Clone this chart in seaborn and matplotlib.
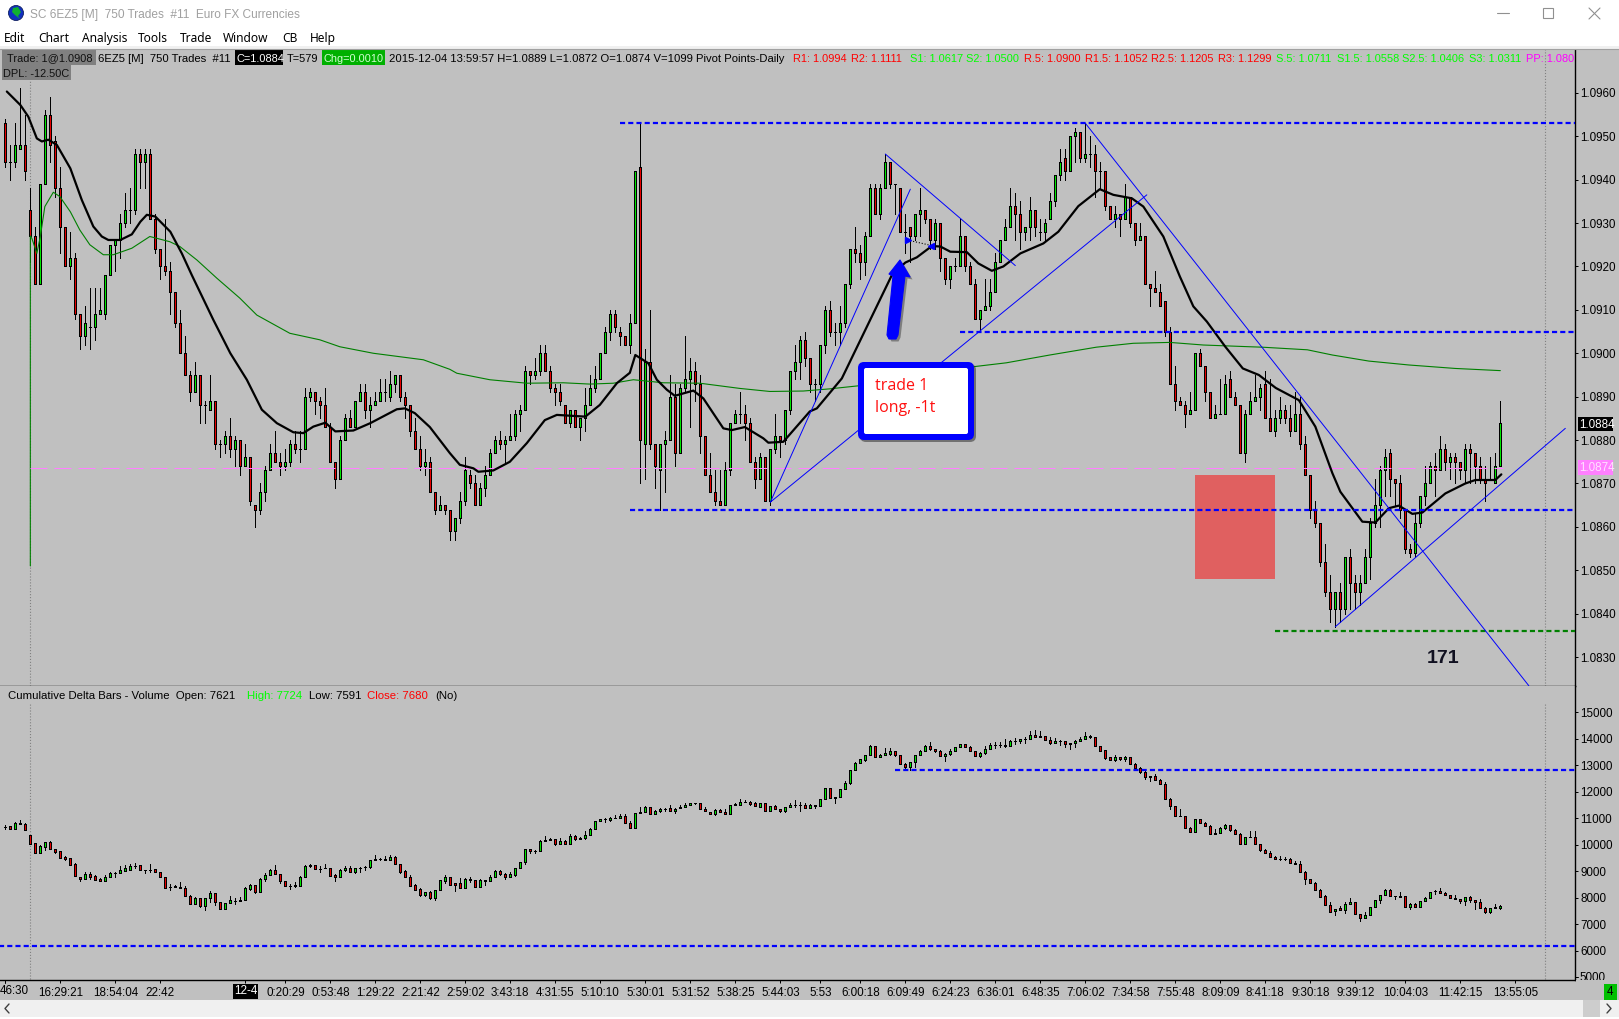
import matplotlib
matplotlib.use("Agg")
import matplotlib.pyplot as plt
import numpy as np
import pandas as pd
import seaborn as sns
from matplotlib.patches import Circle, FancyBboxPatch, Polygon, Rectangle

# -------------------- Data --------------------

# price bars, in points above 1.0900 (one point = 0.0001)
open_pts = [
    53, 44, 44, 47, 48, 33, 27, 16, 39, 55,
    49, 38, 29, 20, 22, 9, 4, 6, 6, 9,
    9, 18, 25, 26, 30, 33, 33, 46, 44, 46,
    31, 24, 20, 19, 14, 7, 0, -5, -9, -5,
    -12, -13, -11, -21, -21, -19, -22, -20, -26, -24,
    -35, -36, -32, -27, -23, -25, -26, -25, -21, -22,
    -22, -10, -9, -11, -12, -17, -25, -29, -20, -15,
    -17, -11, -9, -13, -12, -11, -9, -10, -7, -5,
    -10, -12, -18, -22, -26, -25, -32, -36, -35, -36,
    -41, -38, -34, -28, -30, -35, -31, -28, -23, -20,
    -21, -20, -19, -14, -13, -4, -5, -4, 0, -4,
    -8, -9, -12, -16, -13, -17, -15, -12, -8, -6,
    0, 5, 9, 5, 4, 2, 7, 43, -21, -2,
    -21, -27, -21, -20, -10, -23, -8, -6, -4, -7,
    -19, -28, -32, -34, -35, -27, -16, -14, -14, -16,
    -25, -29, -24, -34, -22, -19, -20, -13, -4, -2,
    3, -1, -7, -7, 2, 10, 5, 5, 7, 16,
    24, 23, 21, 27, 38, 32, 38, 44, 39, 38,
    28, 29, 27, 32, 33, 31, 26, 30, 22, 17,
    20, 20, 27, 20, 16, 8, 10, 11, 14, 21,
    26, 29, 34, 32, 28, 29, 33, 28, 28, 31,
    35, 41, 45, 42, 50, 51, 45, 46, 46, 42,
    42, 34, 31, 32, 31, 36, 30, 26, 27, 16,
    15, 14, 12, 5, -7, -11, -12, -14, -13, 0,
    -3, -9, -15, -14, -14, -6, -10, -12, -23, -14,
    -11, -10, -7, -15, -18, -15, -13, -15, -18, -14,
    -21, -28, -36, -39, -48, -55, -59, -55, -59, -47,
    -53, -55, -53, -47, -39, -35, -27, -23, -29, -30,
    -36, -45, -46, -39, -33, -30, -26, -27, -22, -25,
    -24, -25, -27, -22, -23, -26, -29, -29, -30, -26,
]
close_pts = [
    44, 44, 48, 48, 42, 27, 16, 39, 55, 48,
    38, 29, 20, 22, 9, 4, 7, 6, 9, 10,
    18, 25, 26, 30, 33, 33, 46, 44, 46, 31,
    24, 20, 19, 14, 7, 0, -5, -9, -5, -12,
    -12, -11, -21, -21, -19, -22, -20, -26, -24, -34,
    -36, -32, -27, -23, -25, -26, -25, -21, -22, -22,
    -10, -9, -11, -12, -17, -25, -29, -20, -15, -17,
    -11, -9, -13, -12, -11, -9, -9, -7, -5, -10,
    -12, -18, -22, -26, -25, -32, -36, -35, -36, -41,
    -38, -34, -27, -30, -35, -31, -28, -23, -20, -21,
    -20, -19, -14, -13, -4, -5, -4, 0, -4, -8,
    -9, -11, -16, -13, -17, -15, -12, -8, -6, 0,
    5, 9, 6, 4, 2, 7, 42, -20, -2, -21,
    -26, -21, -20, -10, -23, -8, -6, -4, -7, -19,
    -28, -32, -34, -35, -27, -16, -14, -14, -16, -25,
    -29, -24, -34, -22, -19, -20, -13, -4, -2, 3,
    -1, -7, -7, 2, 10, 5, 5, 7, 16, 24,
    23, 21, 27, 38, 32, 38, 44, 39, 39, 28,
    28, 27, 32, 33, 31, 26, 30, 22, 17, 20,
    20, 27, 20, 16, 8, 10, 11, 14, 21, 26,
    29, 34, 32, 28, 29, 33, 29, 28, 30, 35,
    41, 44, 42, 50, 51, 45, 46, 46, 42, 42,
    34, 31, 32, 31, 36, 30, 26, 27, 16, 15,
    14, 11, 5, -7, -11, -12, -14, -13, 0, -3,
    -9, -15, -14, -14, -7, -10, -12, -23, -14, -11,
    -10, -8, -15, -18, -15, -13, -15, -18, -14, -21,
    -28, -36, -39, -48, -55, -59, -55, -59, -47, -53,
    -55, -53, -47, -39, -35, -27, -24, -29, -30, -36,
    -45, -46, -39, -33, -30, -26, -27, -22, -25, -24,
    -25, -27, -22, -23, -26, -29, -30, -29, -26, -16,
]
high_pts = [
    54, 48, 53, 61, 55, 38, 29, 39, 56, 59,
    50, 43, 29, 28, 23, 9, 11, 15, 15, 15,
    18, 25, 26, 32, 37, 38, 47, 47, 47, 47,
    32, 24, 31, 21, 14, 10, 4, -4, -2, -5,
    -11, -5, -11, -20, -18, -15, -19, -20, -21, -24,
    -35, -30, -26, -21, -18, -23, -22, -20, -18, -18,
    -8, -8, -9, -10, -8, -16, -25, -19, -14, -13,
    -11, -7, -7, -10, -9, -6, -6, -4, -5, -5,
    -9, -12, -15, -19, -22, -24, -32, -33, -35, -36,
    -38, -32, -24, -27, -28, -30, -26, -22, -19, -18,
    -19, -14, -13, -12, -3, -4, -1, 2, 2, -3,
    -7, -7, -12, -13, -13, -15, -8, -5, -3, 0,
    6, 10, 10, 6, 4, 9, 42, 53, 1, 10,
    -21, -21, -18, -5, -7, -7, 4, -1, -2, -5,
    -19, -23, -27, -27, -25, -16, -13, -9, -12, -15,
    -24, -23, -24, -22, -14, -19, -13, -4, 2, 4,
    5, -1, -6, 2, 11, 12, 7, 11, 16, 24,
    29, 25, 28, 39, 39, 39, 46, 44, 39, 38,
    32, 29, 32, 38, 33, 31, 31, 30, 22, 20,
    22, 31, 27, 21, 17, 10, 17, 17, 23, 26,
    31, 38, 37, 35, 29, 36, 33, 31, 31, 37,
    41, 47, 47, 50, 52, 51, 53, 50, 48, 44,
    42, 34, 34, 32, 39, 36, 30, 30, 27, 16,
    19, 16, 12, 6, -3, -10, -11, -9, 0, 1,
    -3, -9, -12, -6, -5, -4, -9, -12, -13, -9,
    -5, -7, -4, -6, -13, -10, -12, -12, -9, -10,
    -19, -28, -34, -39, -44, -51, -55, -53, -47, -45,
    -51, -51, -45, -38, -29, -26, -22, -22, -29, -28,
    -36, -44, -37, -33, -26, -25, -23, -19, -21, -23,
    -23, -25, -21, -21, -23, -24, -26, -24, -23, -11,
]
low_pts = [
    43, 40, 43, 47, 40, 21, 16, 16, 39, 44,
    36, 23, 20, 17, 8, 1, 2, 1, 3, 9,
    8, 18, 19, 22, 29, 30, 32, 38, 38, 31,
    23, 17, 18, 9, 6, 0, -5, -11, -9, -16,
    -16, -13, -22, -24, -23, -24, -26, -28, -26, -35,
    -40, -37, -34, -27, -25, -28, -27, -26, -23, -25,
    -22, -11, -14, -15, -17, -25, -31, -29, -20, -17,
    -17, -11, -15, -17, -12, -11, -11, -11, -9, -11,
    -15, -19, -22, -27, -28, -32, -37, -36, -37, -43,
    -43, -39, -35, -31, -35, -35, -33, -28, -23, -22,
    -25, -20, -20, -18, -13, -7, -6, -5, -4, -9,
    -12, -12, -16, -17, -17, -20, -18, -12, -9, -6,
    0, 3, 5, 2, 2, 0, 7, -30, -29, -22,
    -31, -36, -32, -20, -26, -23, -9, -17, -11, -23,
    -28, -32, -35, -35, -35, -28, -16, -16, -20, -25,
    -31, -29, -34, -35, -23, -24, -21, -14, -6, -6,
    -3, -9, -11, -9, 0, 4, 2, 2, 6, 15,
    21, 17, 18, 27, 32, 31, 38, 38, 32, 28,
    23, 21, 26, 27, 30, 24, 24, 19, 16, 15,
    19, 20, 19, 16, 8, 5, 10, 10, 14, 21,
    26, 29, 26, 24, 26, 26, 27, 26, 26, 31,
    34, 40, 40, 42, 44, 44, 44, 43, 36, 38,
    33, 31, 29, 27, 31, 29, 25, 26, 16, 11,
    14, 11, 4, -7, -13, -12, -17, -14, -13, -3,
    -11, -15, -15, -14, -14, -10, -12, -23, -25, -14,
    -11, -13, -15, -18, -19, -16, -16, -19, -18, -22,
    -28, -38, -40, -49, -56, -62, -63, -62, -60, -59,
    -59, -58, -53, -52, -40, -40, -33, -33, -35, -38,
    -46, -47, -47, -40, -35, -30, -33, -27, -27, -29,
    -30, -29, -30, -30, -30, -30, -34, -29, -30, -26,
]

# cumulative delta bars
delta_open = [
    10680, 10700, 10610, 10770, 10770, 10360, 10050, 9700, 9930, 10090,
    9850, 9750, 9540, 9490, 9260, 8800, 8720, 8880, 8810, 8710,
    8645, 8770, 8920, 8920, 9020, 9060, 9210, 9225, 9035, 9060,
    9070, 8960, 8770, 8420, 8430, 8395, 8355, 8055, 7775, 7980,
    7700, 7980, 8165, 7825, 7590, 7790, 7890, 7905, 7905, 8345,
    8470, 8230, 8695, 8845, 9035, 8885, 8620, 8445, 8490, 8455,
    8770, 9185, 9225, 9100, 9110, 9110, 8845, 8770, 9035, 9110,
    8960, 9130, 9150, 9150, 9450, 9450, 9450, 9410, 9525, 9260,
    9000, 8770, 8470, 8320, 8115, 8205, 8000, 8305, 8645, 8770,
    8545, 8545, 8380, 8720, 8655, 8420, 8655, 8620, 8770, 9000,
    8885, 8795, 8870, 9110, 9335, 9825, 9750, 9750, 10165, 10165,
    10205, 10040, 10130, 10040, 10320, 10205, 10245, 10355, 10580, 10885,
    10970, 10945, 11000, 11000, 11085, 10810, 10620, 11185, 11225, 11410,
    11150, 11260, 11360, 11375, 11260, 11375, 11410, 11515, 11590, 11590,
    11360, 11250, 11150, 11300, 11225, 11150, 11490, 11515, 11600, 11600,
    11565, 11440, 11565, 11260, 11450, 11340, 11260, 11415, 11490, 11490,
    11490, 11375, 11490, 11450, 11715, 12130, 11790, 11790, 12090, 12320,
    12810, 13075, 13200, 13375, 13715, 13300, 13375, 13425, 13525, 13375,
    13035, 12950, 13110, 13375, 13525, 13715, 13600, 13525, 13340, 13425,
    13525, 13675, 13790, 13675, 13525, 13340, 13450, 13600, 13750, 13750,
    13750, 13715, 13905, 13905, 13980, 13980, 14130, 14095, 14095, 13940,
    13830, 13905, 13905, 13830, 13830, 13905, 13980, 14095, 14055, 13715,
    13565, 13300, 13185, 13300, 13225, 13300, 13035, 12885, 12734, 12583,
    12583, 12432, 12281, 11715, 11451, 11074, 11074, 10621, 10495, 10960,
    10809, 10696, 10432, 10432, 10621, 10734, 10545, 10394, 10017, 10281,
    10281, 10017, 9790, 9677, 9526, 9476, 9476, 9451, 9300, 9262,
    8960, 8696, 8545, 8281, 8055, 7715, 7488, 7601, 7526, 7752,
    7828, 7375, 7224, 7337, 7639, 7904, 8092, 8281, 8055, 8055,
    8055, 7639, 7752, 7639, 7866, 7979, 8243, 8256, 8168, 8092,
    7979, 7941, 7866, 8017, 7904, 7828, 7601, 7451, 7639, 7621,
]
delta_close = [
    10680, 10610, 10810, 10810, 10570, 10040, 9700, 9940, 10090, 9850,
    9740, 9510, 9475, 9250, 8830, 8720, 8880, 8800, 8680, 8645,
    8770, 8920, 8920, 9035, 9110, 9185, 9210, 9035, 9035, 9060,
    8960, 8770, 8380, 8420, 8395, 8355, 8055, 7775, 7980, 7700,
    7980, 8165, 7825, 7590, 7790, 7905, 7890, 7865, 8355, 8470,
    8230, 8695, 8845, 9035, 8885, 8620, 8430, 8445, 8430, 8770,
    9185, 9225, 9075, 9100, 9110, 8835, 8770, 9035, 9110, 8960,
    9110, 9110, 9150, 9410, 9410, 9450, 9410, 9525, 9260, 8985,
    8770, 8455, 8305, 8115, 8205, 8000, 8305, 8655, 8770, 8495,
    8495, 8380, 8695, 8655, 8420, 8655, 8620, 8770, 9000, 8885,
    8770, 8885, 9110, 9335, 9825, 9750, 9750, 10130, 10130, 10205,
    10040, 10130, 10040, 10320, 10205, 10245, 10355, 10580, 10885, 10960,
    10970, 11000, 11000, 11085, 10810, 10620, 11185, 11225, 11410, 11150,
    11260, 11360, 11360, 11260, 11360, 11410, 11515, 11590, 11590, 11360,
    11260, 11150, 11300, 11225, 11150, 11490, 11540, 11600, 11600, 11550,
    11450, 11565, 11260, 11450, 11340, 11260, 11415, 11490, 11490, 11490,
    11375, 11490, 11450, 11715, 12130, 11750, 11750, 12090, 12320, 12810,
    13075, 13225, 13375, 13715, 13300, 13375, 13450, 13525, 13375, 13035,
    12950, 13110, 13375, 13525, 13715, 13600, 13525, 13340, 13425, 13525,
    13675, 13790, 13675, 13525, 13340, 13450, 13600, 13750, 13750, 13750,
    13715, 13905, 13905, 13980, 13980, 14130, 14055, 14055, 13940, 13830,
    13905, 13905, 13790, 13790, 13905, 13980, 14095, 14055, 13715, 13550,
    13275, 13185, 13300, 13225, 13300, 13035, 12885, 12734, 12545, 12545,
    12432, 12281, 11715, 11451, 11074, 11074, 10621, 10495, 10960, 10809,
    10696, 10394, 10394, 10621, 10734, 10545, 10394, 10017, 10281, 10281,
    10017, 9790, 9677, 9526, 9451, 9476, 9476, 9300, 9262, 8960,
    8696, 8545, 8281, 8042, 7715, 7476, 7589, 7526, 7752, 7828,
    7375, 7224, 7337, 7639, 7904, 8092, 8281, 8055, 8055, 8020,
    7639, 7752, 7639, 7866, 7979, 8205, 8243, 8168, 8092, 7979,
    7941, 7866, 8017, 7904, 7828, 7601, 7451, 7601, 7601, 7680,
]
delta_high = [
    10760, 10700, 10850, 10920, 10810, 10360, 10050, 9980, 10090, 10130,
    9850, 9750, 9575, 9490, 9300, 8800, 8960, 8960, 8845, 8745,
    8845, 8960, 8960, 9185, 9225, 9260, 9300, 9225, 9035, 9260,
    9070, 8960, 8770, 8505, 8470, 8580, 8430, 8090, 8015, 7980,
    7980, 8245, 8165, 7825, 7790, 8055, 7980, 8015, 8395, 8505,
    8470, 8735, 8920, 9075, 9225, 8885, 8620, 8505, 8580, 8810,
    9225, 9260, 9225, 9185, 9260, 9110, 8885, 9075, 9185, 9185,
    9110, 9150, 9185, 9410, 9600, 9490, 9560, 9600, 9560, 9260,
    9035, 8845, 8505, 8355, 8205, 8240, 8305, 8655, 8845, 8770,
    8545, 8735, 8735, 8770, 8655, 8695, 8655, 8845, 9035, 9035,
    8920, 8960, 9110, 9335, 9825, 9825, 9790, 10165, 10320, 10245,
    10205, 10245, 10165, 10395, 10355, 10280, 10505, 10620, 10885, 10960,
    11010, 11035, 11125, 11150, 11150, 10885, 11185, 11410, 11450, 11410,
    11300, 11375, 11375, 11490, 11375, 11490, 11590, 11590, 11590, 11590,
    11440, 11250, 11335, 11335, 11335, 11515, 11565, 11715, 11675, 11665,
    11615, 11565, 11565, 11450, 11490, 11340, 11415, 11565, 11675, 11600,
    11565, 11525, 11490, 11715, 12130, 12130, 11790, 12090, 12395, 12810,
    13110, 13225, 13375, 13750, 13715, 13415, 13640, 13640, 13525, 13375,
    13075, 13110, 13375, 13565, 13750, 13865, 13600, 13565, 13450, 13600,
    13675, 13790, 13790, 13715, 13525, 13490, 13715, 13830, 13865, 13865,
    13980, 13940, 14015, 13980, 14055, 14280, 14320, 14280, 14095, 14055,
    14015, 13940, 13905, 13830, 13940, 14055, 14245, 14130, 14055, 13715,
    13565, 13300, 13375, 13300, 13340, 13300, 13075, 12923, 12772, 12583,
    12659, 12470, 12357, 11753, 11451, 11338, 11074, 10658, 10960, 10960,
    10847, 10734, 10583, 10658, 10772, 10734, 10583, 10432, 10281, 10507,
    10507, 10017, 9828, 9753, 9564, 9564, 9526, 9489, 9375, 9375,
    8998, 8696, 8583, 8319, 8092, 7828, 7589, 7677, 7828, 7979,
    7828, 7375, 7451, 7639, 7904, 8092, 8319, 8319, 8055, 8205,
    8055, 7790, 7790, 7866, 8017, 8205, 8281, 8356, 8205, 8092,
    8092, 7941, 8017, 8055, 7904, 7941, 7639, 7601, 7752, 7724,
]
delta_low = [
    10595, 10610, 10610, 10770, 10570, 10040, 9700, 9700, 9815, 9850,
    9700, 9510, 9440, 9250, 8830, 8645, 8720, 8720, 8680, 8645,
    8645, 8770, 8770, 8920, 9020, 9035, 9110, 9035, 8920, 8985,
    8960, 8770, 8380, 8305, 8395, 8355, 8055, 7775, 7775, 7665,
    7550, 7855, 7740, 7590, 7590, 7790, 7775, 7865, 7905, 8305,
    8190, 8230, 8645, 8845, 8885, 8545, 8430, 8345, 8395, 8455,
    8770, 9150, 9075, 8985, 9110, 8835, 8645, 8770, 9000, 8960,
    8920, 8960, 9035, 9110, 9410, 9410, 9410, 9410, 9260, 8920,
    8770, 8455, 8305, 8080, 8080, 7965, 7930, 8305, 8570, 8495,
    8270, 8380, 8380, 8580, 8420, 8420, 8495, 8620, 8770, 8845,
    8710, 8795, 8835, 9110, 9285, 9690, 9675, 9750, 10130, 10165,
    10000, 10040, 10040, 10040, 10165, 10205, 10205, 10355, 10580, 10885,
    10845, 10910, 11000, 11000, 10810, 10620, 10620, 11185, 11225, 11150,
    11150, 11225, 11285, 11260, 11185, 11375, 11410, 11490, 11550, 11360,
    11260, 11150, 11110, 11225, 11150, 11150, 11490, 11515, 11600, 11490,
    11450, 11440, 11260, 11260, 11340, 11225, 11225, 11415, 11440, 11285,
    11375, 11375, 11375, 11450, 11715, 11750, 11590, 11790, 12090, 12280,
    12810, 13075, 13160, 13375, 13300, 13300, 13375, 13390, 13340, 13035,
    12820, 12820, 12950, 13375, 13525, 13565, 13490, 13340, 13175, 13390,
    13525, 13675, 13675, 13525, 13340, 13300, 13415, 13600, 13640, 13675,
    13675, 13715, 13790, 13830, 13830, 13980, 14055, 14055, 13940, 13790,
    13830, 13750, 13675, 13600, 13675, 13905, 13980, 14015, 13715, 13525,
    13225, 13185, 13150, 13185, 13150, 13035, 12850, 12696, 12470, 12394,
    12432, 12281, 11715, 11338, 11074, 11074, 10621, 10495, 10495, 10809,
    10696, 10394, 10394, 10432, 10583, 10507, 10394, 10017, 10017, 10281,
    10017, 9753, 9677, 9526, 9451, 9413, 9413, 9300, 9262, 8960,
    8507, 8545, 8281, 8042, 7715, 7476, 7363, 7526, 7413, 7752,
    7375, 7136, 7224, 7337, 7639, 7790, 8092, 8055, 7941, 8020,
    7639, 7589, 7639, 7639, 7866, 7979, 8130, 8168, 8092, 7979,
    7941, 7790, 7715, 7828, 7564, 7601, 7413, 7413, 7601, 7591,
]

# moving averages: bar number, points above 1.0900
black_bar = [0.3, 3, 4.6, 6.3, 7.3, 8.6, 10.3, 13, 15.3, 17.6, 19.3, 20.6, 23, 25.3, 27, 28.3, 30, 33, 35.3,
             37.3, 41.6, 45, 48.3, 51.3, 54.3, 57.6, 59.6, 61.6, 64, 66, 69.6, 73, 78.3, 79.9, 81.9, 84.9,
             88.9, 90.9, 93.6, 94.6, 97.6, 100.9, 104.3, 107.9, 110.3, 116, 118.9, 122.3, 124.9, 126, 128.6,
             130.3, 132.3, 133.9, 137.6, 139.6, 143.6, 145.3, 147.9, 151.6, 152.6, 155.6, 160.9, 162.3, 167.3,
             172.3, 177.3, 180, 182.3, 185.3, 187, 189, 192.3, 194.6, 197.3, 199.6, 203, 207.6, 210.6, 214.6,
             218.9, 221.6, 225.3, 227.6, 231.6, 234.9, 237.6, 240.3, 244, 247.5, 250.7, 254.1, 258.7, 262,
             265.4, 267, 271.4, 274, 276.7, 278.7, 281.4, 283.4, 288, 292, 294, 298, 299.2]
black_pts = [60.3, 57.2, 54.5, 49.5, 48.8, 49.2, 48, 42.6, 35.3, 29.2, 26.9, 26.1, 26.1, 27.4, 30.3, 31.9, 31.5, 28, 23,
             18, 7.7, 0, -6.1, -13, -16.1, -18.2, -18.4, -16.9, -16, -18, -17.8, -16.1, -12.9, -12.7, -13.8, -17,
             -23, -25.7, -26.5, -27.3, -27, -25, -20.7, -15.4, -14.2, -14.6, -11.9, -6.9, -4.5, -0.4, -2.3,
             -6.1, -8.4, -9.8, -8.6, -10.4, -17.3, -17.7, -17, -19.6, -20.6, -20.4, -13.4, -12.7, -5.8,
             6.1, 18, 20.9, 22.1, 24.7, 24.6, 23.4, 23.3, 20.7, 19, 20, 23, 25.3, 28, 33.9,
             37.8, 36.5, 35.7, 33.8, 26.9, 17.7, 10.8, 7.3, 1.5, -3.5, -5, -8, -10.8, -16.9,
             -27.6, -31.9, -38.8, -39, -35.7, -35.1, -37, -36.7, -32.3, -30, -29.2, -29.2, -27.9]
green_bar = [5, 5, 5.3, 6.3, 7, 7.9, 9.6, 10.9, 13, 14.9, 16.9, 19.6, 21.6, 25.3, 28.9, 32.9, 34.9, 38.3, 42.3, 46.9,
             50.3, 56.9, 62.9, 66.9, 73.6, 83.6, 88.9, 90.3, 96.9, 104.3, 111.6, 116.9, 121.6, 125.6, 131.6, 138.9,
             146.9, 152.9, 159.6, 164.9, 170.6, 193.6, 200.2, 208.9, 218.2, 225.6, 232.9, 239.6, 248.9, 251.4,
             260.4, 265.4, 272.7, 280.7, 290, 299]
green_pts = [-49, 27, 26.5, 23, 26.9, 33.8, 37.1, 36.1, 32.6, 28.4, 25, 22.7, 22.7, 24.2, 26.9, 25.7, 24.6, 21.5, 17.3, 12.7,
             8.8, 4.6, 3.1, 1.5, 0, -1.5, -3.7, -4.6, -6.1, -6.9, -6.8, -7.1, -6.9, -6.1, -6.8, -6.9,
             -8.1, -8.8, -8.7, -8.2, -7.5, -3.1, -2.2, -0.4, 1.4, 2.3, 2.5, 1.9, 1.5, 1.4,
             0.8, -0.4, -1.8, -2.7, -3.5, -4]

# drawn levels and trend lines: (first bar, last bar, points)
blue_levels = [(123, 53), (191, 5), (125, -36)]
green_level = (254, -64)
pink_level = -26.4
trend_lines = [(153, -34.3, 181, 37.8), (153, -34.3, 228.3, 36.5), (176, 45.9, 202, 20.2),
               (216, 53, 304.7, -76.6), (266, -63, 312, -17.3)]
delta_levels = [(178, 12820), (-2, 6180)]
zone_bars = (238, 254)
zone_pts = (-52, -28)
price_ticks = [1.0830, 1.0840, 1.0850, 1.0860, 1.0870, 1.0880, 1.0890, 1.0900, 1.0910, 1.0920, 1.0930, 1.0940, 1.0950, 1.0960]
delta_ticks = [6000, 7000, 8000, 9000, 10000, 11000, 12000, 13000, 14000, 15000]
time_bars = [11, 22, 31, 48, 56, 65, 74, 83, 92, 101, 110, 119, 128, 137, 146, 155, 163, 171, 180, 189, 198, 207, 216, 225, 234,
             243, 252, 261, 270, 280, 291, 302]
time_labels = ["16:29:21", "18:54:04", "22:42", "", "0:20:29", "0:53:48", "1:29:22", "2:21:42", "2:59:02", "3:43:18",
               "4:31:55", "5:10:10", "5:30:01", "5:31:52", "5:38:25", "5:44:03", "5:53", "6:00:18", "6:09:49", "6:24:23",
               "6:36:01", "6:48:35", "7:06:02", "7:34:58", "7:55:48", "8:09:09", "8:41:18", "9:30:18", "9:39:12", "10:04:03",
               "11:42:15", "13:55:05"]
menu_items = ["Edit", "Chart", "Analysis", "Tools", "Trade", "Window", "CB", "Help"]
pivot_labels = ["R1: 1.0994", "R2: 1.1111", "S1: 1.0617", "S2: 1.0500", "R.5: 1.0900", "R1.5: 1.1052", "R2.5: 1.1205", "R3: 1.1299",
                "S.5: 1.0711", "S1.5: 1.0558", "S2.5: 1.0406", "S3: 1.0311", "PP: 1.080"]

# -------------------- Style --------------------

W, H = 1619, 1019
CHART_GRAY = "#C0C0C0"
BAR_GREEN = "#00E600"
BAR_RED = "#E60000"
BLUE = "#0000FF"
FONT = "Liberation Sans"
INFO_SIZE = 7.9

sns.set_theme(style="white")
plt.rcParams["font.family"] = [FONT, "DejaVu Sans"]


def price(pts):
    return 1.09 + np.asarray(pts, dtype=float) / 10000


def make_axes(fig, left, top, right, bottom, zorder=1):
    return fig.add_axes([left / W, 1 - bottom / H, (right - left) / W, (bottom - top) / H], zorder=zorder)


def draw_bars(ax, o, c, h, l):
    """Bodies and wicks, one slot per bar."""
    frame = pd.DataFrame({"bar": np.arange(len(o)), "o": o, "c": c, "h": h, "l": l})
    ax.vlines(frame["bar"], frame["l"], frame["h"], color="black", lw=0.72, zorder=3, antialiased=False)
    colors = np.where(frame["c"] >= frame["o"], BAR_GREEN, BAR_RED)
    lows = frame[["o", "c"]].min(axis=1)
    ax.bar(frame["bar"], (frame["c"] - frame["o"]).abs(), bottom=lows, width=0.46, color=colors,
           edgecolor="black", linewidth=0.72, zorder=4, antialiased=False)


def style_panel(ax, ylim, ticks, fmt):
    ax.set_facecolor(CHART_GRAY)
    ax.set_xlim(-5.33 / 5, (1575 - 5.33) / 5)
    ax.set_ylim(*ylim)
    ax.yaxis.tick_right()
    ax.set_yticks(ticks)
    ax.set_yticklabels([fmt.format(t) for t in ticks])
    ax.tick_params(axis="y", length=2.2, width=0.72, pad=1.5, labelsize=8.4, colors="black", right=True)
    for side in ["top", "left"]:
        ax.spines[side].set_visible(False)
    for side in ["right", "bottom"]:
        ax.spines[side].set_color("black")
        ax.spines[side].set_linewidth(1.0)
    ax.set_xlabel("")
    ax.set_ylabel("")


def main():
    fig = plt.figure(figsize=(W / 100, H / 100), dpi=100, facecolor="white")

    # background strips behind the chart panels
    fig.patches.append(Rectangle((0, 1 - 1000 / H), 1, 20 / H, transform=fig.transFigure, facecolor=CHART_GRAY, edgecolor="none", zorder=0))
    fig.patches.append(Rectangle((1575 / W, 1 - 1000 / H), 44 / W, 951 / H, transform=fig.transFigure, facecolor=CHART_GRAY, edgecolor="none", zorder=0))

    # -------------------- Price panel --------------------
    ax = make_axes(fig, 0, 49, 1575, 686)
    draw_bars(ax, price(open_pts), price(close_pts), price(high_pts), price(low_pts))
    sns.lineplot(x=green_bar, y=price(green_pts), ax=ax, color="#008000", lw=0.8, sort=False, estimator=None, zorder=5)
    sns.lineplot(x=black_bar, y=price(black_pts), ax=ax, color="black", lw=1.6, sort=False, estimator=None, zorder=6)
    style_panel(ax, (1.09 - 0.007666, 1.09 + 0.00701), price_ticks, "{:.4f}")
    ax.set_xticks([])
    right_bar = ax.get_xlim()[1]

    ax.add_patch(Rectangle((zone_bars[0], price(zone_pts[0])), zone_bars[1] - zone_bars[0],
                           price(zone_pts[1]) - price(zone_pts[0]), color="#E06060", lw=0, zorder=2))
    for start, pts in blue_levels:
        ax.plot([start, right_bar], [price(pts)] * 2, color=BLUE, lw=1.6, ls=(0, (2.3, 1.4)), zorder=7)
    ax.plot([green_level[0], right_bar], [price(green_level[1])] * 2, color="#008000", lw=1.6, ls=(0, (2.3, 1.4)), zorder=7)
    ax.plot([5, 299.5], [price(pink_level)] * 2, color="#FF80FF", lw=0.72, ls=(0, (17, 7)), zorder=5)
    for x0, p0, x1, p1 in trend_lines:
        ax.plot([x0, x1], [price(p0), price(p1)], color=BLUE, lw=0.7, zorder=7)
    ax.plot([180.4, 185.3], [price(26.1), price(24.8)], color="black", lw=0.8, ls=":", zorder=7)
    ax.plot([180.6], [price(26.1)], marker=">", ms=5, color=BLUE, zorder=8)
    ax.plot([185.1], [price(24.8)], marker="<", ms=5, color=BLUE, zorder=8)
    ax.plot([5, 5], [ax.get_ylim()[0], 1.0972 + 0.00025], color="#808080", lw=0.8, ls=":", zorder=1)
    ax.plot([308, 308], [ax.get_ylim()[0], 1.0972 + 0.00025], color="#808080", lw=0.8, ls=":", zorder=1)

    # -------------------- Delta panel --------------------
    ax2 = make_axes(fig, 0, 686, 1575, 980)
    draw_bars(ax2, delta_open, delta_close, delta_high, delta_low)
    style_panel(ax2, (4894, 15993), delta_ticks, "{:d}")
    ax2.set_xticks(time_bars)
    ax2.set_xticklabels(time_labels)
    ax2.tick_params(axis="x", length=2.2, width=0.72, pad=3, labelsize=8.4, colors="black", bottom=True)
    for start, level in delta_levels:
        ax2.plot([start, right_bar], [level, level], color=BLUE, lw=1.6, ls=(0, (2.3, 1.4)), zorder=7)
    ax2.plot([5, 5], [4950, 15350], color="#808080", lw=0.8, ls=":", zorder=1)
    ax2.plot([308, 308], [4950, 15350], color="#808080", lw=0.8, ls=":", zorder=1)
    ax2.set_xlim(ax.get_xlim())

    # -------------------- Window chrome, drawn in pixel coordinates --------------------
    ui = fig.add_axes([0, 0, 1, 1], zorder=10)
    ui.set_xlim(0, W)
    ui.set_ylim(H, 0)
    ui.axis("off")
    ui.patch.set_alpha(0)

    def label(x, y, s, color="black", size=INFO_SIZE, ha="left", **kw):
        return ui.text(x, y, s, color=color, fontsize=size, ha=ha, va="center", zorder=kw.pop("zorder", 3), **kw)

    def box(x0, y0, x1, y1, color, z=1):
        ui.add_patch(Rectangle((x0, y0), x1 - x0, y1 - y0, facecolor=color, edgecolor="none", zorder=z))

    # title bar and menu
    ui.add_patch(Circle((16, 13), 7.5, facecolor="#1030C0", edgecolor="#102060", lw=0.6))
    ui.add_patch(Polygon([(13, 8), (18, 7), (21, 12), (18, 16), (20, 19), (15, 15), (12, 12)], facecolor="#10B030", edgecolor="none"))
    label(30, 15, "SC 6EZ5 [M]  750 Trades  #11  Euro FX Currencies", color="#A0A0A0", size=8.6)
    ui.plot([1497, 1509], [13, 13], color="#909090", lw=0.8)
    ui.add_patch(Rectangle((1543, 8), 10, 10, facecolor="none", edgecolor="#909090", lw=0.8))
    ui.plot([1589, 1600], [8, 19], color="#909090", lw=0.8)
    ui.plot([1589, 1600], [19, 8], color="#909090", lw=0.8)
    for x, item in zip([4, 38, 82, 138, 180, 223, 282, 310], menu_items):
        label(x, 38, item, size=8.6, family="Noto Sans")
    box(0, 46, W, 49, "#F0F0F0")
    ui.plot([0, W], [49, 49], color="#A0A0A0", lw=0.8)

    # info lines
    box(2, 50, 96, 65, "#808080")
    label(7, 58.5, "Trade: 1@1.0908", color="#101010")
    label(98, 58.5, "6EZ5 [M]  750 Trades  #11", size=8.15)
    box(235, 50, 283, 65, "black")
    label(236, 58.5, "C=1.0884", color="white")
    label(287, 58.5, "T=579")
    box(322, 50, 385, 65, "#00B000")
    label(323, 58.5, "Chg=0.0010", color="#D0FFD0")
    label(389, 58.5, "2015-12-04 13:59:57 H=1.0889 L=1.0872 O=1.0874 V=1099 Pivot Points-Daily", size=8.15)
    pivot_x = [793, 851, 910, 966, 1024, 1085, 1151, 1218, 1276, 1337, 1402, 1469, 1526]
    pivot_colors = ["#FF0000"] * 2 + ["#00FF00"] * 2 + ["#FF0000"] * 4 + ["#00FF00"] * 4 + ["#FF00FF"]
    for x, text, color in zip(pivot_x, pivot_labels, pivot_colors):
        label(x, 58.5, text, color=color)
    box(2, 65, 71, 80, "#808080")
    label(3, 74, "DPL: -12.50C", color="#101010")

    # delta header
    label(8, 696, "Cumulative Delta Bars - Volume  Open: 7621", size=8.2)
    label(247, 696, "High: 7724", color="#00FF00", size=8.2)
    label(309, 696, "Low: 7591", size=8.2)
    label(367, 696, "Close: 7680", color="#FF0000", size=8.2)
    label(435, 696, "(No)", size=8.2)

    # axis flags
    box(1578, 417, 1613, 431, "black")
    label(1579, 424.5, "1.0884", color="white", size=8.4)
    box(1578, 460, 1613, 475, "#FF80FF")
    label(1579, 468, "1.0874", color="#FFE0FF", size=8.4)
    box(233, 984, 258, 999, "black")
    label(245.5, 991.5, "12-4", color="white", ha="center", size=8.4)
    label(-0.5, 991, "46:30", size=8.4)
    ui.plot([5.33, 5.33], [980, 983], color="black", lw=0.72)
    # 5000 is cut off by the bottom edge of the panel
    label(1579, 978, "5000", size=8.4)
    ui.plot([1575, 1578], [977.4, 977.4], color="black", lw=0.72)
    box(1575.5, 980, W, 1000, CHART_GRAY, z=4)

    # scroll bar and corner flag
    box(1603.5, 984, 1617, 1000, "#00C000", z=5)
    label(1610, 992, "4", ha="center", size=8.4, zorder=6)
    box(0, 1000, W, 1017, "#F0F0F0")
    box(1583, 1000, 1600, 1017, "#CDCDCD")
    ui.plot([9, 5, 9], [1004, 1008.5, 1013], color="#404040", lw=1.0)
    ui.plot([1607, 1611, 1607], [1004, 1008.5, 1013], color="#404040", lw=1.0)

    # blue arrow
    arrow = [(900, 260), (910, 277), (905, 276), (898, 335), (896, 339), (889, 339), (887, 335), (893, 276), (889, 274)]
    ui.add_patch(Polygon([(x + 2.5, y + 2.5) for x, y in arrow], facecolor="black", edgecolor="none", alpha=0.35, zorder=3))
    ui.add_patch(Polygon(arrow, facecolor=BLUE, edgecolor=BLUE, lw=0.8, joinstyle="round", zorder=4))

    # note box
    ui.add_patch(FancyBboxPatch((860, 364), 116, 78, boxstyle="round,pad=0,rounding_size=6", facecolor="#303030",
                                edgecolor="none", alpha=0.55, zorder=3))
    ui.add_patch(FancyBboxPatch((858, 362), 116, 78, boxstyle="round,pad=0,rounding_size=6", facecolor=BLUE, edgecolor="none", zorder=4))
    ui.add_patch(FancyBboxPatch((864, 368), 104, 66, boxstyle="round,pad=0,rounding_size=2", facecolor="white", edgecolor="none", zorder=5))
    label(875, 386.5, "trade 1", color="#FF1010", size=11.5, family="Open Sans", zorder=6)
    label(875, 408.5, "long, -1t", color="#FF1010", size=11.5, family="Open Sans", zorder=6)

    label(1443, 658.5, "171", ha="center", size=14, fontweight="bold", color="#101020", zorder=6)

    fig.savefig("out.png", dpi=100, facecolor="white")
    plt.close(fig)


if __name__ == "__main__":
    main()
